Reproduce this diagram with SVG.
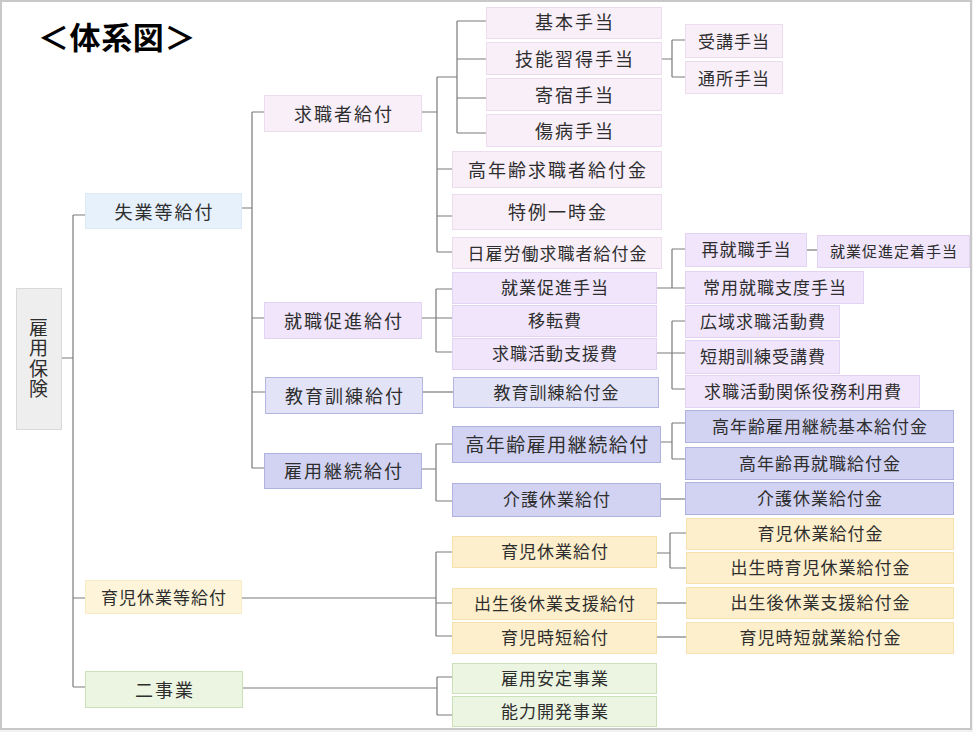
<svg xmlns="http://www.w3.org/2000/svg" width="973" height="732" viewBox="0 0 973 732">
<style>
text{font-family:"Noto Sans CJK JP","Noto Sans",sans-serif;fill:#2e2e2e;text-anchor:middle;dominant-baseline:central}
.a{font-size:18px;letter-spacing:2px}
.b{font-size:17px;letter-spacing:1px}
.c{font-size:15px;letter-spacing:1px}
.d{font-size:19px;letter-spacing:1.5px}
.v{font-size:19px;letter-spacing:1.5px;writing-mode:vertical-rl;text-anchor:start}
.gray{fill:#eeeeee;stroke:#d9d9d9}
.blue{fill:#e6f1fc;stroke:#dce9f7}
.pink{fill:#f8eff9;stroke:#ecdcee}
.lav{fill:#f0e5fb;stroke:#e3d3f3}
.edu{fill:#e2e3f6;stroke:#b3b6de}
.cont{fill:#d2d3f2;stroke:#afb1de}
.yel{fill:#fdefcb;stroke:#f6e2ae}
.yel2{fill:#fdf4d9;stroke:#f8ebc6}
.grn{fill:#ebf5e1;stroke:#cbe1b7}
#connectors path{fill:none;stroke:#7a7a7a;stroke-width:1.2}
</style>
<rect x="0" y="0" width="973" height="732" fill="#f2f2f2"/>
<rect x="1" y="1" width="970" height="728" fill="#ffffff" stroke="#c8c8c8" stroke-width="2"/>
<text x="38" y="35" style="font-size:31px;font-weight:bold;fill:#000;text-anchor:start;letter-spacing:0.6px">＜体系図＞</text>
<g id="connectors">
<path d="M61 358H73M73 215V687M73 215H85M73 598H85M73 687H85"/>
<path d="M241 208H252M252 112V468M252 112H264M252 318H264M252 392H265M252 468H264"/>
<path d="M421 112H437M437 77V252M437 77H457M437 169H452M437 216H452M437 252H452"/>
<path d="M457 21V133M457 21H486M457 59H486M457 98H486M457 133H486"/>
<path d="M661 59H672M672 40V77M672 40H685M672 77H685"/>
<path d="M421 318H452M436 289V352M436 289H452M436 352H452"/>
<path d="M656 288H685M672 249V288M672 249H685"/>
<path d="M806 250H817"/>
<path d="M656 353H685M672 321V389M672 321H685M672 389H685"/>
<path d="M422 392H453"/>
<path d="M421 469H436M436 444V501M436 444H452M436 501H452"/>
<path d="M660 442H672M672 423V459M672 423H685M672 459H685"/>
<path d="M660 499H685"/>
<path d="M241 598H436M436 552V636M436 552H452M436 603H452M436 636H452"/>
<path d="M656 553H670M670 533V568M670 533H686M670 568H686"/>
<path d="M656 603H686"/>
<path d="M656 637H686"/>
<path d="M242 688H437M437 677V715M437 677H452M437 715H452"/>
</g>
<g id="koyouhoken"><rect class="gray" x="16.5" y="288.5" width="45" height="141"/>
<text class="v" x="38.5" y="318">雇用保険</text></g>
<g id="shitsugyo"><rect class="blue" x="85.5" y="193.5" width="156" height="35"/><text class="a" x="164.5" y="210.5">失業等給付</text></g>
<g id="ikujikyugyoto"><rect class="yel2" x="85.5" y="580.5" width="156" height="33"/><text class="b" x="164" y="596.5">育児休業等給付</text></g>
<g id="nijigyo"><rect class="grn" x="85.5" y="671.5" width="157" height="36"/><text class="a" x="165" y="688.5">二事業</text></g>
<g id="kyushokusha"><rect class="pink" x="264.5" y="95.5" width="157" height="36"/><text class="a" x="344" y="112.5">求職者給付</text></g>
<g id="shushoku"><rect class="lav" x="264.5" y="302.5" width="157" height="36"/><text class="a" x="344" y="319.5">就職促進給付</text></g>
<g id="kyoiku"><rect class="edu" x="265.5" y="377.5" width="157" height="36"/><text class="a" x="345" y="394.5">教育訓練給付</text></g>
<g id="keizoku"><rect class="cont" x="264.5" y="453.5" width="157" height="35"/><text class="a" x="344" y="469.5">雇用継続給付</text></g>
<g id="kihon"><rect class="pink" x="486.5" y="7.5" width="175" height="31"/><text class="a" x="575" y="21">基本手当</text></g>
<g id="ginou"><rect class="pink" x="486.5" y="42.5" width="175" height="32"/><text class="a" x="575" y="57.5">技能習得手当</text></g>
<g id="kishuku"><rect class="pink" x="486.5" y="78.5" width="175" height="32"/><text class="a" x="575" y="93.5">寄宿手当</text></g>
<g id="shoubyou"><rect class="pink" x="486.5" y="114.5" width="175" height="32"/><text class="a" x="575" y="129.5">傷病手当</text></g>
<g id="juko"><rect class="pink" x="685.5" y="24.5" width="97" height="33"/><text class="b" x="734" y="40">受講手当</text></g>
<g id="tsusho"><rect class="pink" x="685.5" y="61.5" width="97" height="32"/><text class="b" x="734" y="77">通所手当</text></g>
<g id="kounenrei_kyushoku"><rect class="pink" x="452.5" y="151.5" width="209" height="36"/><text class="a" x="558" y="168.5">高年齢求職者給付金</text></g>
<g id="tokurei"><rect class="pink" x="452.5" y="194.5" width="209" height="35"/><text class="a" x="558" y="210.5">特例一時金</text></g>
<g id="hiyatoi"><rect class="pink" x="452.5" y="237.5" width="209" height="31"/><text class="b" x="557.5" y="252">日雇労働求職者給付金</text></g>
<g id="shugyo_sokushin"><rect class="lav" x="452.5" y="272.5" width="204" height="31"/><text class="b" x="555" y="286.5">就業促進手当</text></g>
<g id="iten"><rect class="lav" x="452.5" y="305.5" width="204" height="31"/><text class="b" x="555" y="319.5">移転費</text></g>
<g id="kyushoku_katsudo"><rect class="lav" x="452.5" y="338.5" width="204" height="31"/><text class="b" x="555" y="352.5">求職活動支援費</text></g>
<g id="saishushoku"><rect class="lav" x="685.5" y="233.5" width="121" height="33"/><text class="b" x="746.5" y="248.5">再就職手当</text></g>
<g id="teichaku"><rect class="lav" x="817.5" y="235.5" width="152" height="32"/><text class="c" x="894" y="250.5">就業促進定着手当</text></g>
<g id="joyo"><rect class="lav" x="685.5" y="271.5" width="178" height="32"/><text class="b" x="775" y="286.5">常用就職支度手当</text></g>
<g id="koiki"><rect class="lav" x="685.5" y="305.5" width="154" height="32"/><text class="b" x="763" y="320.5">広域求職活動費</text></g>
<g id="tanki"><rect class="lav" x="685.5" y="340.5" width="154" height="33"/><text class="b" x="763" y="355.5">短期訓練受講費</text></g>
<g id="ekimu"><rect class="lav" x="685.5" y="375.5" width="234" height="32"/><text class="b" x="803" y="390.5">求職活動関係役務利用費</text></g>
<g id="kyoiku_kyufukin"><rect class="edu" x="453.5" y="377.5" width="205" height="30"/><text class="b" x="556.5" y="391.5">教育訓練給付金</text></g>
<g id="kounenrei_keizoku"><rect class="cont" x="452.5" y="426.5" width="208" height="36"/><text class="d" x="557.5" y="443.5">高年齢雇用継続給付</text></g>
<g id="kaigo"><rect class="cont" x="452.5" y="483.5" width="208" height="33"/><text class="b" x="557" y="498.5">介護休業給付</text></g>
<g id="kounenrei_kihon"><rect class="cont" x="685.5" y="410.5" width="268" height="32"/><text class="b" x="820" y="425.5">高年齢雇用継続基本給付金</text></g>
<g id="kounenrei_saishushoku"><rect class="cont" x="685.5" y="447.5" width="268" height="32"/><text class="b" x="820" y="462.5">高年齢再就職給付金</text></g>
<g id="kaigo_kyufukin"><rect class="cont" x="685.5" y="482.5" width="268" height="32"/><text class="b" x="820" y="497.5">介護休業給付金</text></g>
<g id="ikuji_kyufu"><rect class="yel" x="452.5" y="536.5" width="204" height="31"/><text class="b" x="555" y="550.5">育児休業給付</text></g>
<g id="shusshogo"><rect class="yel" x="452.5" y="588.5" width="204" height="31"/><text class="b" x="555" y="602.5">出生後休業支援給付</text></g>
<g id="jitan"><rect class="yel" x="452.5" y="622.5" width="204" height="31"/><text class="b" x="555" y="636.5">育児時短給付</text></g>
<g id="ikuji_kyufukin"><rect class="yel" x="686.5" y="518.5" width="267" height="31"/><text class="b" x="820.5" y="532.5">育児休業給付金</text></g>
<g id="shusshoji"><rect class="yel" x="686.5" y="552.5" width="267" height="31"/><text class="b" x="820.5" y="566.5">出生時育児休業給付金</text></g>
<g id="shusshogo_kin"><rect class="yel" x="686.5" y="587.5" width="267" height="31"/><text class="b" x="820.5" y="601.5">出生後休業支援給付金</text></g>
<g id="jitan_kin"><rect class="yel" x="686.5" y="622.5" width="267" height="31"/><text class="b" x="820.5" y="636.5">育児時短就業給付金</text></g>
<g id="antei"><rect class="grn" x="452.5" y="663.5" width="204" height="30"/><text class="b" x="555" y="677.5">雇用安定事業</text></g>
<g id="nouryoku"><rect class="grn" x="452.5" y="696.5" width="204" height="30"/><text class="b" x="555" y="710.5">能力開発事業</text></g>
</svg>
